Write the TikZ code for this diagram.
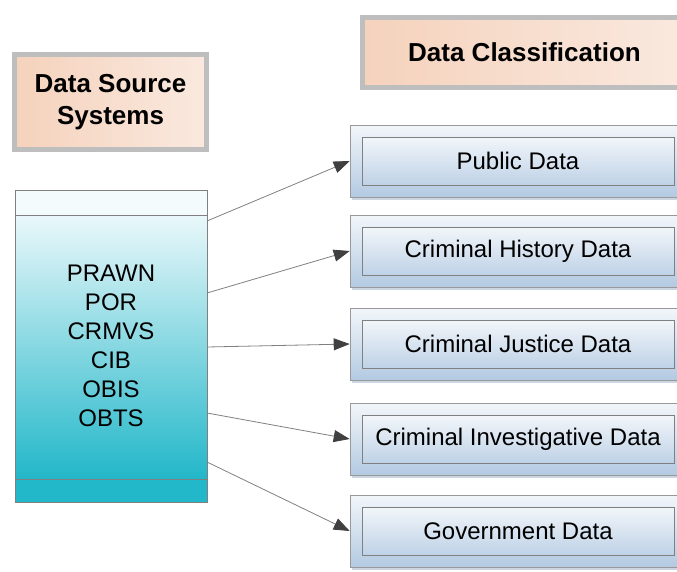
\documentclass[tikz,border=0pt]{standalone}
\usepackage{fontspec}
\setmainfont{Liberation Sans}
\usetikzlibrary{arrows.meta,shadows}

\definecolor{peachL}{HTML}{F5D2BC}
\definecolor{peachR}{HTML}{FAE9DF}
\definecolor{hdrline}{HTML}{BEBEBE}
\definecolor{tealtop}{HTML}{EAF8FA}
\definecolor{tealbot}{HTML}{22B7C9}
\definecolor{tealband}{HTML}{F4FBFC}
\definecolor{bluetop}{HTML}{F2F6FA}
\definecolor{bluebot}{HTML}{B3CAE2}

\tikzset{
  header/.style={draw=hdrline, line width=5pt, left color=peachL, right color=peachR,
    inner sep=0pt, align=center, font=\fontsize{26}{32}\selectfont\bfseries},
  srcbox/.style={draw=gray, line width=0.6pt, minimum width=192pt, minimum height=312pt,
    inner sep=0pt, align=center, font=\fontsize{24}{29}\selectfont},
  classbox/.style={draw=gray!80, line width=0.6pt, top color=bluetop, bottom color=bluebot,
    minimum width=336pt, minimum height=72pt,
    drop shadow={shadow xshift=2pt, shadow yshift=-3pt, fill=bluebot!80!gray, opacity=0.6}},
  classin/.style={draw=gray, line width=0.6pt, top color=bluetop, bottom color=bluebot!85,
    minimum width=312pt, minimum height=48pt, inner sep=0pt, font=\fontsize{24}{28}\selectfont},
  link/.style={draw=gray, line width=0.8pt, -{Triangle[length=16pt, width=12pt, color=black!75]}}
}

\begin{document}
\begin{tikzpicture}[x=1pt,y=-1pt]
\useasboundingbox (0,0) rectangle (677,571);
\clip (0,0) rectangle (677,571);

% headings
\node[header, minimum width=192pt, minimum height=95pt] (hdrsrc) at (110.5,102) {Data Source\\Systems};
\node[header, minimum width=324pt, minimum height=70pt] (hdrcls) at (524.5,52.5) {Data Classification};

% source systems
\shade[top color=tealtop, bottom color=tealbot] (15,215) rectangle (207,479);
\fill[tealband] (15,191) rectangle (207,215);
\fill[tealbot] (15,479) rectangle (207,503);
\node[srcbox] (src) at (111,346) {PRAWN\\POR\\CRMVS\\CIB\\OBIS\\OBTS};
\draw[gray, line width=0.6pt] (15,215) -- (207,215);
\draw[gray, line width=0.6pt] (15,479) -- (207,479);

% classes
\node[classbox] (c1) at (518,161) {};
\node[classin] (d1) at (c1) {Public Data};
\node[classbox] (c2) at (518,251) {};
\node[classin] (d2) at (c2) {Criminal History Data};
\node[classbox] (c3) at (518,344) {};
\node[classin] (d3) at (c3) {Criminal Justice Data};
\node[classbox] (c4) at (518,439) {};
\node[classin] (d4) at (c4) {Criminal Investigative Data};
\node[classbox] (c5) at (518,531) {};
\node[classin] (d5) at (c5) {Government Data};

% links
\coordinate (s1) at (207,221);
\coordinate (s2) at (207,293);
\coordinate (s3) at (207,347);
\coordinate (s4) at (207,413);
\coordinate (s5) at (207,462);
\draw[link] (s1) -- (c1.west);
\draw[link] (s2) -- (c2.west);
\draw[link] (s3) -- (c3.west);
\draw[link] (s4) -- (c4.west);
\draw[link] (s5) -- (c5.west);
\end{tikzpicture}
\end{document}
